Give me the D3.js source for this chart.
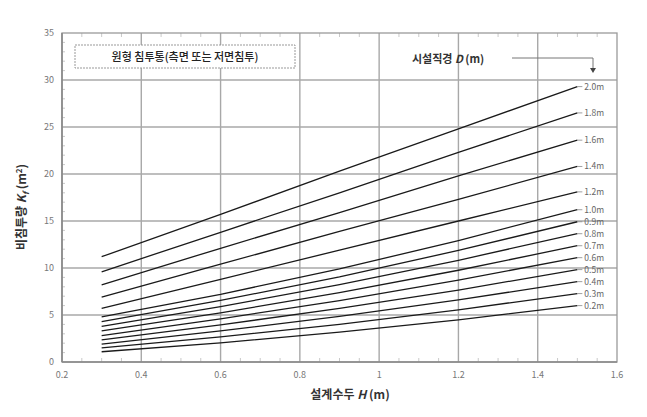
<!DOCTYPE html>
<html><head><meta charset="utf-8">
<script src="https://cdn.jsdelivr.net/npm/d3@7"></script>
<style>body{margin:0;background:#fff}svg{display:block}</style>
</head><body><svg id="c" width="647" height="417"></svg>
<script>
const headH = [0.3, 0.6, 0.9, 1.2, 1.5];
const diameters = ["2.0m","1.8m","1.6m","1.4m","1.2m","1.0m","0.9m","0.8m","0.7m","0.6m","0.5m","0.4m","0.3m","0.2m"];
const K_20 = [11.2, 15.7, 20.3, 24.8, 29.3];
const K_18 = [9.6, 13.8, 18.0, 22.3, 26.5];
const K_16 = [8.2, 12.1, 15.9, 19.8, 23.6];
const K_14 = [6.9, 10.4, 13.9, 17.3, 20.8];
const K_12 = [5.7, 8.8, 11.9, 15.0, 18.1];
const K_10 = [4.8, 7.2, 9.90, 12.92, 16.20];
const K_09 = [4.3, 6.55, 9.06, 11.87, 14.92];
const K_08 = [3.8, 5.9, 8.22, 10.82, 13.65];
const K_07 = [3.30, 5.23, 7.38, 9.76, 12.37];
const K_06 = [2.8, 4.59, 6.54, 8.71, 11.10];
const K_05 = [2.35, 3.95, 5.70, 7.65, 9.83];
const K_04 = [1.9, 3.31, 4.85, 6.60, 8.55];
const K_03 = [1.5, 2.67, 4.01, 5.55, 7.28];
const K_02 = [1.09, 2.04, 3.17, 4.49, 6.00];
const seriesValues = [K_20,K_18,K_16,K_14,K_12,K_10,K_09,K_08,K_07,K_06,K_05,K_04,K_03,K_02];
const xTicks = [0.2,0.4,0.6,0.8,1.0,1.2,1.4,1.6];
const yTicks = [0,5,10,15,20,25,30,35];
const titleText = "원형 침투통(측면 또는 저면침투)";

const svg = d3.select("#c");
const x = d3.scaleLinear().domain([0.2,1.6]).range([62,617]);
const y = d3.scaleLinear().domain([0,35]).range([362,33]);
const font = "'Noto Sans CJK KR','Noto Sans',sans-serif";

// grid
svg.append("g").selectAll("line").data(xTicks.slice(1,-1)).join("line")
  .attr("x1",d=>x(d)).attr("x2",d=>x(d)).attr("y1",y(0)).attr("y2",y(35))
  .attr("stroke","#a8a8a8").attr("stroke-width",1.4);
svg.append("g").selectAll("line").data(yTicks.slice(1,-1)).join("line")
  .attr("x1",x(0.2)).attr("x2",x(1.6)).attr("y1",d=>y(d)).attr("y2",d=>y(d))
  .attr("stroke","#a8a8a8").attr("stroke-width",1.4);

// minor ticks
const xMinor = d3.range(0.25,1.6,0.05).filter(v=>Math.abs(v*5-Math.round(v*5))>1e-6);
const yMinor = d3.range(1,35,1).filter(v=>v%5!==0);
const mt = svg.append("g").attr("stroke","#bbb").attr("stroke-width",0.8);
xMinor.forEach(v=>{
  mt.append("line").attr("x1",x(v)).attr("x2",x(v)).attr("y1",y(0)).attr("y2",y(0)-4);
  mt.append("line").attr("x1",x(v)).attr("x2",x(v)).attr("y1",y(35)).attr("y2",y(35)+4);
});
yMinor.forEach(v=>{
  mt.append("line").attr("x1",x(0.2)).attr("x2",x(0.2)+3).attr("y1",y(v)).attr("y2",y(v));
});

// frame
svg.append("rect").attr("x",x(0.2)).attr("y",y(35)).attr("width",x(1.6)-x(0.2)).attr("height",y(0)-y(35))
  .attr("fill","none").attr("stroke","#9a9a9a").attr("stroke-width",1.3);
svg.append("line").attr("x1",x(0.2)).attr("x2",x(0.2)).attr("y1",y(0)).attr("y2",y(35)).attr("stroke","#888").attr("stroke-width",1.6);
svg.append("line").attr("x1",x(0.2)).attr("x2",x(1.6)).attr("y1",y(0)).attr("y2",y(0)).attr("stroke","#888").attr("stroke-width",1.6);

// axes labels
const fmt = d=>String(+d.toFixed(1));
svg.append("g").selectAll("text").data(xTicks).join("text")
  .attr("x",d=>x(d)).attr("y",378).attr("text-anchor","middle")
  .attr("font-family",font).attr("font-size",9).attr("fill","#777").text(fmt);
svg.append("g").selectAll("text").data(yTicks).join("text")
  .attr("x",54).attr("y",d=>y(d)+3).attr("text-anchor","end")
  .attr("font-family",font).attr("font-size",9).attr("fill","#777").text(d=>d);

// axis titles
const xt = svg.append("text").attr("x",350).attr("y",399).attr("text-anchor","middle")
  .attr("font-family",font).attr("font-size",12).attr("font-weight","bold").attr("fill","#333");
xt.append("tspan").text("설계수두 ");
xt.append("tspan").attr("font-style","italic").text("H");
xt.append("tspan").text(" (m)");
const yt = svg.append("text").attr("transform","translate(26,207) rotate(-90)").attr("text-anchor","middle")
  .attr("font-family",font).attr("font-size",12).attr("font-weight","bold").attr("fill","#333");
yt.append("tspan").text("비침투량 ");
yt.append("tspan").attr("font-style","italic").text("K");
yt.append("tspan").attr("font-style","italic").attr("font-size",8).attr("dy",3).text("f");
yt.append("tspan").attr("dy",-3).text(" (m");
yt.append("tspan").attr("font-size",8).attr("dy",-4).text("2");
yt.append("tspan").attr("dy",4).text(")");

// lines
const line = d3.line().x((d,i)=>x(headH[i])).y(d=>y(d));
svg.append("g").selectAll("path").data(seriesValues).join("path")
  .attr("d",d=>line(d)).attr("fill","none").attr("stroke","#1a1a1a").attr("stroke-width",1.3);

// labels at ends
const lab = svg.append("g");
seriesValues.forEach((s,i)=>{
  const yy = y(s[s.length-1]);
  lab.append("line").attr("x1",x(1.5)).attr("x2",x(1.5)+5).attr("y1",yy).attr("y2",yy).attr("stroke","#888").attr("stroke-width",0.8);
  lab.append("text").attr("x",x(1.5)+7).attr("y",yy+3).attr("font-family",font).attr("font-size",8.5).attr("fill","#666").text(diameters[i]);
});

// title box
svg.append("rect").attr("x",75).attr("y",45).attr("width",220).attr("height",23)
  .attr("fill","#fff").attr("stroke","#999").attr("stroke-width",1).attr("stroke-dasharray","2,1");
svg.append("text").attr("x",185).attr("y",61).attr("text-anchor","middle")
  .attr("font-family",font).attr("font-size",11).attr("font-weight",500).attr("fill","#222").text(titleText);

// legend pointer
const lg = svg.append("text").attr("x",412).attr("y",63)
  .attr("font-family",font).attr("font-size",11).attr("font-weight","bold").attr("fill","#333");
lg.append("tspan").text("시설직경 ");
lg.append("tspan").attr("font-style","italic").text("D");
lg.append("tspan").text(" (m)");
svg.append("path").attr("d","M512,58 H593 V69").attr("fill","none").attr("stroke","#777").attr("stroke-width",1);
svg.append("path").attr("d","M590,68 L596,68 L593,73 Z").attr("fill","#444");
</script></body></html>
